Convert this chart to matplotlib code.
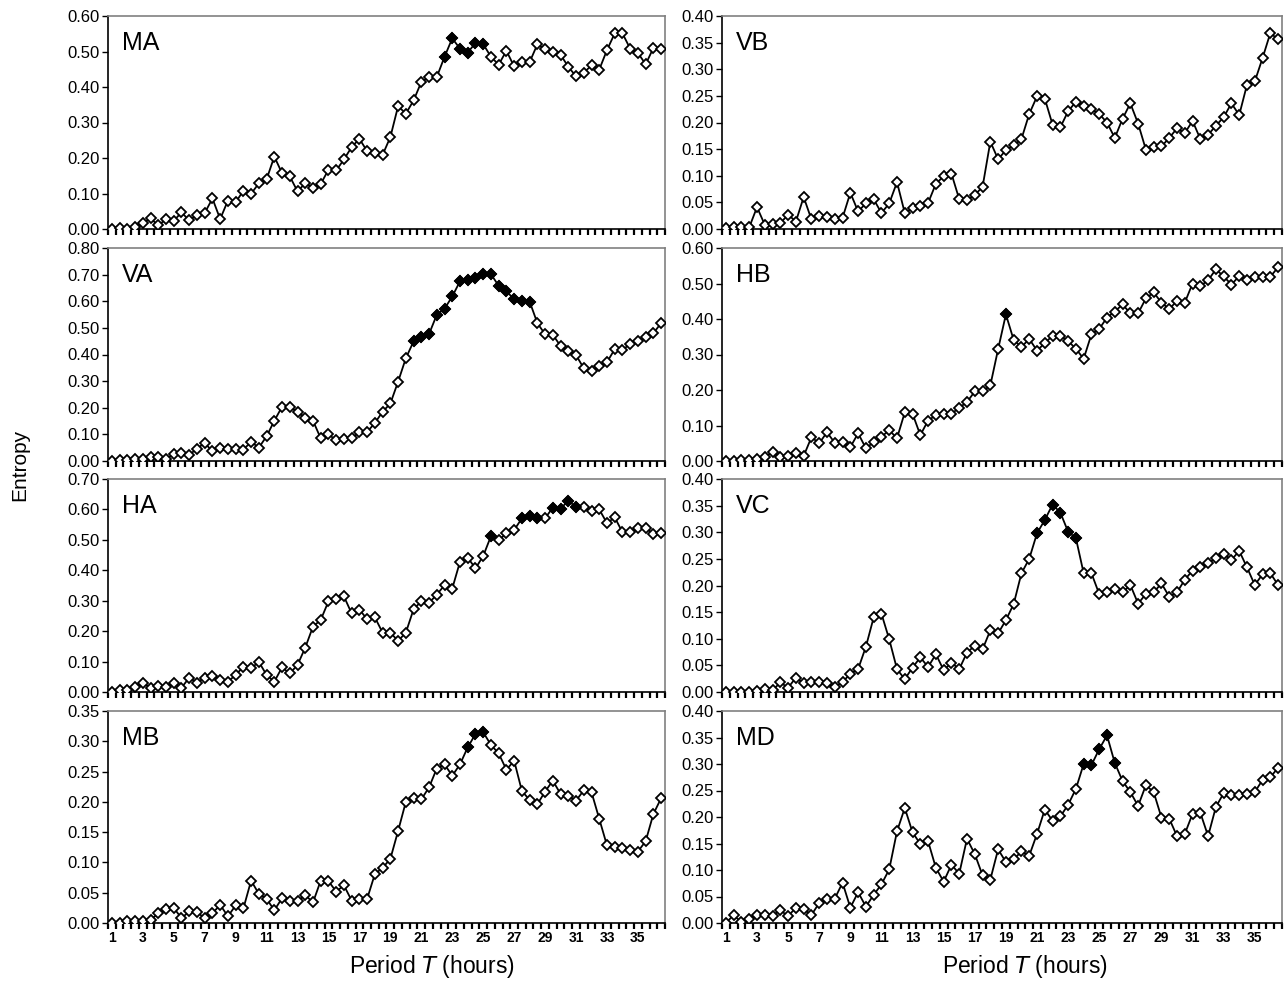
import numpy as np
import matplotlib
matplotlib.use('Agg')
import matplotlib.pyplot as plt
from matplotlib.ticker import FixedLocator, FormatStrFormatter

plt.rcParams['font.family'] = ['Liberation Sans', 'DejaVu Sans']

# period axis: categories every half hour from 1 to 36.5 h
hours = np.arange(2, 74) / 2.0

ma = [0.000, 0.003, 0.000, 0.007, 0.016, 0.030, 0.010, 0.028, 0.023, 0.047, 0.024, 0.040,
      0.045, 0.086, 0.028, 0.080, 0.075, 0.108, 0.099, 0.129, 0.140, 0.204, 0.157, 0.148,
      0.106, 0.129, 0.116, 0.127, 0.167, 0.165, 0.196, 0.231, 0.254, 0.219, 0.215, 0.209,
      0.259, 0.346, 0.325, 0.362, 0.414, 0.428, 0.428, 0.485, 0.537, 0.508, 0.497, 0.524,
      0.521, 0.485, 0.463, 0.502, 0.458, 0.470, 0.470, 0.520, 0.506, 0.499, 0.491, 0.457,
      0.430, 0.440, 0.461, 0.449, 0.504, 0.551, 0.551, 0.508, 0.496, 0.464, 0.510, 0.507]
va = [0.000, 0.003, 0.005, 0.009, 0.008, 0.015, 0.015, 0.008, 0.025, 0.031, 0.023, 0.046,
      0.068, 0.036, 0.048, 0.045, 0.045, 0.043, 0.072, 0.050, 0.093, 0.151, 0.204, 0.204,
      0.183, 0.163, 0.151, 0.085, 0.100, 0.078, 0.084, 0.085, 0.109, 0.109, 0.143, 0.185,
      0.216, 0.298, 0.386, 0.449, 0.465, 0.477, 0.549, 0.572, 0.618, 0.675, 0.678, 0.687,
      0.702, 0.702, 0.658, 0.637, 0.608, 0.602, 0.599, 0.518, 0.476, 0.474, 0.432, 0.415,
      0.398, 0.348, 0.337, 0.357, 0.371, 0.420, 0.417, 0.440, 0.449, 0.465, 0.480, 0.518]
ha = [0.000, 0.005, 0.008, 0.016, 0.029, 0.014, 0.020, 0.016, 0.030, 0.014, 0.047, 0.031,
      0.047, 0.053, 0.040, 0.034, 0.056, 0.083, 0.078, 0.099, 0.056, 0.034, 0.081, 0.061,
      0.089, 0.146, 0.215, 0.237, 0.298, 0.306, 0.314, 0.258, 0.271, 0.239, 0.245, 0.195,
      0.195, 0.168, 0.195, 0.272, 0.298, 0.293, 0.320, 0.351, 0.340, 0.428, 0.442, 0.406,
      0.447, 0.512, 0.498, 0.522, 0.532, 0.571, 0.580, 0.571, 0.571, 0.606, 0.602, 0.629,
      0.607, 0.607, 0.594, 0.600, 0.555, 0.574, 0.525, 0.525, 0.539, 0.539, 0.519, 0.523]
mb = [0.000, 0.000, 0.003, 0.004, 0.004, 0.005, 0.016, 0.023, 0.025, 0.008, 0.019, 0.018,
      0.008, 0.016, 0.030, 0.011, 0.029, 0.024, 0.070, 0.048, 0.040, 0.021, 0.041, 0.036,
      0.036, 0.046, 0.034, 0.070, 0.069, 0.052, 0.062, 0.037, 0.040, 0.040, 0.081, 0.091,
      0.106, 0.152, 0.200, 0.207, 0.204, 0.224, 0.255, 0.262, 0.243, 0.262, 0.290, 0.312,
      0.315, 0.294, 0.280, 0.253, 0.268, 0.218, 0.203, 0.196, 0.217, 0.235, 0.213, 0.210,
      0.202, 0.219, 0.216, 0.172, 0.128, 0.125, 0.123, 0.121, 0.118, 0.135, 0.180, 0.206]
vb = [0.002, 0.004, 0.004, 0.003, 0.041, 0.008, 0.010, 0.011, 0.027, 0.014, 0.060, 0.018,
      0.024, 0.022, 0.018, 0.021, 0.068, 0.033, 0.048, 0.056, 0.030, 0.048, 0.088, 0.030,
      0.039, 0.043, 0.049, 0.085, 0.099, 0.104, 0.056, 0.054, 0.064, 0.079, 0.164, 0.131,
      0.148, 0.157, 0.169, 0.216, 0.249, 0.245, 0.196, 0.191, 0.221, 0.239, 0.231, 0.225,
      0.216, 0.200, 0.171, 0.207, 0.236, 0.198, 0.149, 0.154, 0.155, 0.171, 0.189, 0.180,
      0.203, 0.169, 0.177, 0.194, 0.210, 0.236, 0.214, 0.271, 0.277, 0.321, 0.368, 0.356]
hb = [0.000, 0.000, 0.002, 0.002, 0.005, 0.011, 0.025, 0.011, 0.014, 0.023, 0.014, 0.067,
      0.050, 0.081, 0.051, 0.053, 0.039, 0.078, 0.036, 0.053, 0.068, 0.087, 0.064, 0.137,
      0.133, 0.073, 0.114, 0.129, 0.133, 0.133, 0.150, 0.166, 0.196, 0.196, 0.213, 0.315,
      0.413, 0.341, 0.321, 0.344, 0.311, 0.332, 0.353, 0.353, 0.338, 0.316, 0.288, 0.357,
      0.372, 0.404, 0.421, 0.441, 0.416, 0.416, 0.458, 0.475, 0.446, 0.428, 0.451, 0.446,
      0.500, 0.493, 0.509, 0.540, 0.520, 0.497, 0.521, 0.509, 0.519, 0.519, 0.519, 0.546]
vc = [0.000, 0.000, 0.000, 0.000, 0.002, 0.006, 0.003, 0.018, 0.008, 0.027, 0.016, 0.019,
      0.019, 0.016, 0.009, 0.019, 0.034, 0.043, 0.085, 0.140, 0.147, 0.099, 0.043, 0.024,
      0.046, 0.065, 0.047, 0.071, 0.041, 0.055, 0.043, 0.074, 0.087, 0.080, 0.116, 0.110,
      0.135, 0.165, 0.223, 0.250, 0.298, 0.323, 0.352, 0.337, 0.301, 0.289, 0.223, 0.223,
      0.184, 0.187, 0.193, 0.187, 0.201, 0.166, 0.184, 0.187, 0.204, 0.179, 0.187, 0.211,
      0.228, 0.235, 0.242, 0.251, 0.259, 0.248, 0.265, 0.234, 0.201, 0.221, 0.223, 0.201]
md = [0.000, 0.015, 0.001, 0.007, 0.016, 0.015, 0.014, 0.024, 0.013, 0.029, 0.026, 0.015,
      0.038, 0.045, 0.046, 0.076, 0.029, 0.058, 0.031, 0.053, 0.073, 0.101, 0.173, 0.217,
      0.171, 0.149, 0.154, 0.104, 0.078, 0.110, 0.093, 0.159, 0.130, 0.090, 0.082, 0.139,
      0.115, 0.120, 0.135, 0.127, 0.168, 0.214, 0.193, 0.201, 0.223, 0.253, 0.300, 0.298,
      0.328, 0.354, 0.302, 0.268, 0.247, 0.221, 0.260, 0.247, 0.199, 0.197, 0.164, 0.168,
      0.206, 0.208, 0.164, 0.219, 0.245, 0.241, 0.241, 0.243, 0.247, 0.270, 0.275, 0.293]

# periods drawn with filled markers
ma_sig = [22.5, 23, 23.5, 24, 24.5, 25]
va_sig = [20.5, 21, 21.5, 22, 22.5, 23, 23.5, 24, 24.5, 25, 25.5, 26, 26.5, 27, 27.5, 28]
ha_sig = [25.5, 27.5, 28, 28.5, 29.5, 30, 30.5, 31]
mb_sig = [24, 24.5, 25]
vb_sig = []
hb_sig = [19]
vc_sig = [21, 21.5, 22, 22.5, 23, 23.5]
md_sig = [24, 24.5, 25, 25.5, 26]

panels = [
    # name, values, filled periods, ymax, ystep, column, row
    ('MA', ma, ma_sig, 0.60, 0.10, 0, 0),
    ('VA', va, va_sig, 0.80, 0.10, 0, 1),
    ('HA', ha, ha_sig, 0.70, 0.10, 0, 2),
    ('MB', mb, mb_sig, 0.35, 0.05, 0, 3),
    ('VB', vb, vb_sig, 0.40, 0.05, 1, 0),
    ('HB', hb, hb_sig, 0.60, 0.10, 1, 1),
    ('VC', vc, vc_sig, 0.40, 0.05, 1, 2),
    ('MD', md, md_sig, 0.40, 0.05, 1, 3),
]

W, H = 1287, 981
fig = plt.figure(figsize=(W / 100, H / 100), dpi=100)

col_x = [(108, 665), (722, 1282)]
row_y = [(16, 229), (248, 461), (479, 692), (711, 923)]

for name, vals, sig, ymax, ystep, col, row in panels:
    x0, x1 = col_x[col]
    y0, y1 = row_y[row]
    ax = fig.add_axes([x0 / W, 1 - y1 / H, (x1 - x0) / W, (y1 - y0) / H])
    vals = np.array(vals)

    ax.plot(hours, vals, color='black', lw=1.3, marker='D', ms=5.4,
            mfc='white', mec='black', mew=1.3, zorder=3)
    mask = np.isin(hours, sig)
    ax.plot(hours[mask], vals[mask], ls='none', marker='D', ms=5.4,
            mfc='black', mec='black', mew=1.3, zorder=4)

    ax.set_xlim(0.75, 36.75)
    ax.set_ylim(0, ymax)
    ax.set_yticks(np.arange(0, ymax + ystep / 2, ystep))
    ax.yaxis.set_major_formatter(FormatStrFormatter('%.2f'))
    ax.tick_params(axis='y', direction='out', length=4, width=1, labelsize=12, pad=2)

    ax.xaxis.set_major_locator(FixedLocator(np.arange(1, 36, 2)))
    ax.xaxis.set_minor_locator(FixedLocator(np.arange(0.75, 36.8, 0.5)))
    ax.tick_params(axis='x', which='major', length=0, labelsize=10, pad=6)
    ax.tick_params(axis='x', which='minor', direction='out', length=4, width=1.6)
    for lbl in ax.get_xticklabels():
        lbl.set_fontweight('bold')
    if row < 3:
        ax.tick_params(axis='x', which='major', labelbottom=False)

    for s in ['left', 'bottom']:
        ax.spines[s].set_color('black')
        ax.spines[s].set_linewidth(1.2)
    for s in ['top', 'right']:
        ax.spines[s].set_color('#808080')
        ax.spines[s].set_linewidth(1.2)

    ax.text(0.025, 0.93, name, transform=ax.transAxes, fontsize=18,
            ha='left', va='top')

fig.text(432 / W, 1 - 967 / H, 'Period $\\mathit{T}$ (hours)', fontsize=16.5,
         ha='center', va='center')
fig.text(1025 / W, 1 - 967 / H, 'Period $\\mathit{T}$ (hours)', fontsize=16.5,
         ha='center', va='center')
fig.text(20 / W, 1 - 465 / H, 'Entropy', fontsize=15, rotation=90,
         ha='center', va='center')

fig.savefig('out.png', dpi=100)
